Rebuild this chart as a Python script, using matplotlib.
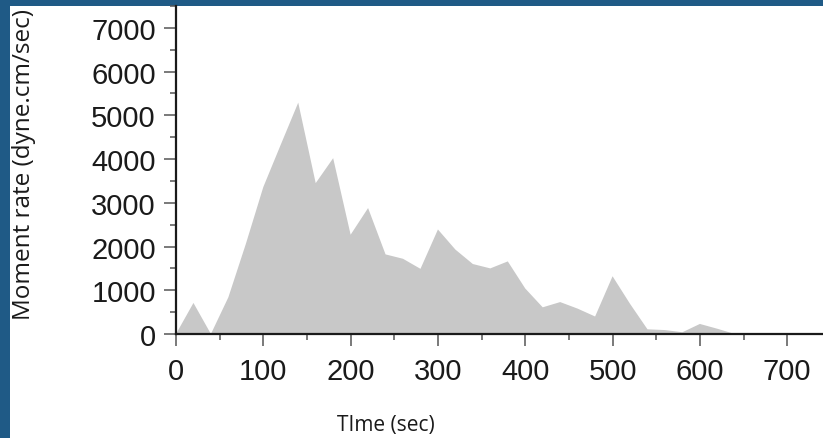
import matplotlib
matplotlib.use('Agg')
import matplotlib.pyplot as plt
from matplotlib.patches import Rectangle
from matplotlib.ticker import MultipleLocator

# moment rate function, sampled every 20 s
time = [0, 20, 40, 60, 80, 100, 120, 140, 160, 180, 200, 220, 240, 260, 280,
        300, 320, 340, 360, 380, 400, 420, 440, 460, 480, 500, 520, 540, 560,
        580, 600, 620, 640, 660, 680, 700, 720, 740]
rate = [0, 710, 0, 840, 2060, 3360, 4330, 5290, 3450, 4020, 2270, 2880, 1820,
        1720, 1490, 2390, 1930, 1600, 1500, 1660, 1040, 610, 730, 580, 400,
        1320, 690, 107, 90, 40, 230, 120, 0, 0, 0, 0, 0, 0]
xticks = [0, 100, 200, 300, 400, 500, 600, 700]
yticks = [0, 1000, 2000, 3000, 4000, 5000, 6000, 7000]

fig = plt.figure(figsize=(8.23, 4.39), dpi=100, facecolor='#1f5a86')
# white slide area
fig.patches.append(Rectangle((10/823, 0), 1, 1 - 7/439, transform=fig.transFigure,
                             facecolor='white', edgecolor='none', zorder=-5))

ax = fig.add_axes([176/823, (439-335)/439, 647/823, 328/439])
ax.set_zorder(2)
ax.set_facecolor('white')
ax.fill_between(time, rate, 0, facecolor='#c8c8c8', edgecolor='none')

ax.set_xlim(0, 741)
ax.set_ylim(0, 7500)
ax.set_xticks(xticks)
ax.set_yticks(yticks)
ax.xaxis.set_minor_locator(MultipleLocator(50))
ax.yaxis.set_minor_locator(MultipleLocator(500))

for s in ['top', 'right']:
    ax.spines[s].set_visible(False)
for s in ['left', 'bottom']:
    ax.spines[s].set_linewidth(1.6)
    ax.spines[s].set_color('#1a1a1a')

ax.tick_params(which='major', direction='out', length=8.5, width=1.1,
               color='#555555', labelsize=21, labelcolor='#1a1a1a')
ax.tick_params(axis='x', which='major', pad=8)
ax.tick_params(axis='y', which='major', pad=6)
ax.tick_params(which='minor', direction='out', length=4.3, width=1.1,
               color='#555555')
for lab in ax.get_xticklabels() + ax.get_yticklabels():
    lab.set_family('Liberation Sans')

ax.set_xlabel('TIme (sec)', family='Open Sans', fontsize=15, color='#1a1a1a')
ax.xaxis.set_label_coords((386-176)/647, -(415-335)/328)
ax.set_ylabel('Moment rate (dyne.cm/sec)', family='Open Sans', fontsize=17.5,
              color='#1a1a1a')
ax.yaxis.set_label_coords(-(176-36)/647, (335-165)/328)

fig.savefig('out.png', dpi=100, facecolor=fig.get_facecolor())
